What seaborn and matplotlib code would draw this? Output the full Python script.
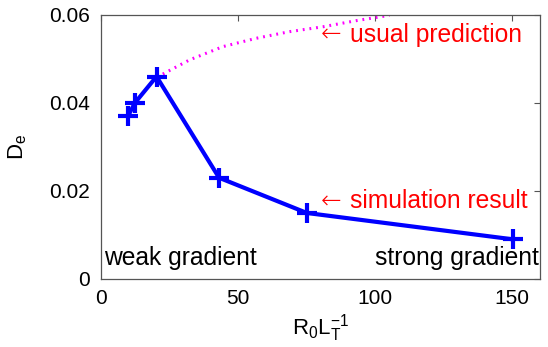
import matplotlib
matplotlib.use("Agg")
import matplotlib.pyplot as plt
import seaborn as sns
import pandas as pd

# simulation result
sim_x = [9.9, 12.4, 20.3, 43.1, 75.1, 150.3]
sim_y = [0.037, 0.040, 0.046, 0.023, 0.015, 0.009]
# usual prediction (dotted)
pred_x = [20.3, 22.1, 32.4, 44.5, 56.7, 68.8, 80.9, 93.1, 105.2]
pred_y = [0.046, 0.0464, 0.0498, 0.0528, 0.0547, 0.0562, 0.0573, 0.0587, 0.0599]

x_ticks = [0, 50, 100, 150]
y_ticks = [0, 0.02, 0.04, 0.06]
y_ticklabels = ["0", "0.02", "0.04", "0.06"]

sns.set_style("white")
plt.rcParams["font.family"] = ["Liberation Sans", "DejaVu Sans"]
plt.rcParams["mathtext.fontset"] = "custom"
plt.rcParams["mathtext.rm"] = "Liberation Sans"
plt.rcParams["text.color"] = "black"
plt.rcParams["axes.labelcolor"] = "black"
plt.rcParams["xtick.labelcolor"] = "black"
plt.rcParams["ytick.labelcolor"] = "black"

fig = plt.figure(figsize=(5.48, 3.47), dpi=100)
ax = fig.add_axes([0.184, 0.196, 0.801, 0.761])

sim = pd.DataFrame({"x": sim_x, "y": sim_y})
pred = pd.DataFrame({"x": pred_x, "y": pred_y})

sns.lineplot(data=pred, x="x", y="y", ax=ax, color="#ff00ff", lw=2.2,
             linestyle=(0, (0.6, 1.6)), sort=False)
sns.lineplot(data=sim, x="x", y="y", ax=ax, color="#0000ff", lw=3.0,
             marker="+", markersize=14, markeredgewidth=3.0,
             markeredgecolor="#0000ff", markerfacecolor="#0000ff", sort=False)

ax.set_xlim(0, 160)
ax.set_ylim(0, 0.06)
ax.set_xticks(x_ticks)
ax.set_yticks(y_ticks)
ax.set_yticklabels(y_ticklabels)
ax.tick_params(direction="in", length=4, width=0.8, color="#555555",
               labelcolor="black", labelsize=15, top=True, right=True)
ax.tick_params(axis="x", pad=7)
ax.tick_params(axis="y", pad=8)
for s in ax.spines.values():
    s.set_color("#555555")
    s.set_linewidth(0.9)

ax.set_xlabel(r"$\mathregular{R_0L_T^{-1}}$", fontsize=16, labelpad=3, color="black")
ax.set_ylabel(r"$\mathregular{D_e}$", fontsize=16, labelpad=14, color="black")

fs = 17.7
ax.text(80.3, 0.0555, "\u2190", color="red", fontsize=fs, family="DejaVu Sans",
        fontweight="light", va="center", ha="left")
ax.text(91.0, 0.0555, "usual prediction", color="red", fontsize=fs,
        va="center", ha="left")
ax.text(80.3, 0.0177, "\u2190", color="red", fontsize=fs, family="DejaVu Sans",
        fontweight="light", va="center", ha="left")
ax.text(91.0, 0.0177, "simulation result", color="red", fontsize=fs,
        va="center", ha="left")
ax.text(1.0, 0.0048, "weak gradient", color="black", fontsize=fs,
        va="center", ha="left")
ax.text(159.8, 0.0048, "strong gradient", color="black", fontsize=fs,
        va="center", ha="right")

fig.savefig("out.png", dpi=100)
